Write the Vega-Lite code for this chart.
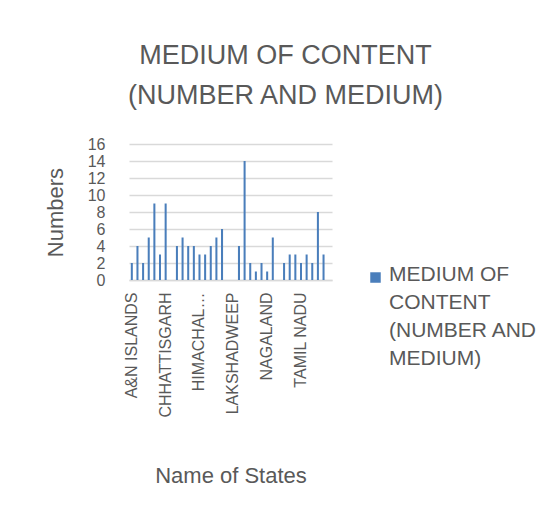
{
  "$schema": "https://vega.github.io/schema/vega-lite/v6.json",
  "width": 203,
  "height": 136,
  "padding": {"left": 44, "top": 42, "right": 5, "bottom": 5},
  "background": "white",
  "title": {
    "text": ["MEDIUM OF CONTENT", "(NUMBER AND MEDIUM)"],
    "fontSize": 27,
    "font": "Liberation Sans",
    "fontWeight": "normal",
    "color": "#595959",
    "lineHeight": 40,
    "anchor": "middle",
    "frame": "group",
    "dx": 55,
    "offset": 26
  },
  "data": {
    "values": [
      {"state": "A&N ISLANDS", "value": 2, "series": "MEDIUM OF CONTENT (NUMBER AND MEDIUM)"},
      {"state": "ANDHRA PRADESH", "value": 4, "series": "MEDIUM OF CONTENT (NUMBER AND MEDIUM)"},
      {"state": "ARUNACHAL PRADESH", "value": 2, "series": "MEDIUM OF CONTENT (NUMBER AND MEDIUM)"},
      {"state": "ASSAM", "value": 5, "series": "MEDIUM OF CONTENT (NUMBER AND MEDIUM)"},
      {"state": "BIHAR", "value": 9, "series": "MEDIUM OF CONTENT (NUMBER AND MEDIUM)"},
      {"state": "CHANDIGARH", "value": 3, "series": "MEDIUM OF CONTENT (NUMBER AND MEDIUM)"},
      {"state": "CHHATTISGARH", "value": 9, "series": "MEDIUM OF CONTENT (NUMBER AND MEDIUM)"},
      {"state": "DNH & DD", "value": 0, "series": "MEDIUM OF CONTENT (NUMBER AND MEDIUM)"},
      {"state": "DELHI", "value": 4, "series": "MEDIUM OF CONTENT (NUMBER AND MEDIUM)"},
      {"state": "GOA", "value": 5, "series": "MEDIUM OF CONTENT (NUMBER AND MEDIUM)"},
      {"state": "GUJARAT", "value": 4, "series": "MEDIUM OF CONTENT (NUMBER AND MEDIUM)"},
      {"state": "HARYANA", "value": 4, "series": "MEDIUM OF CONTENT (NUMBER AND MEDIUM)"},
      {"state": "HIMACHAL PRADESH", "value": 3, "series": "MEDIUM OF CONTENT (NUMBER AND MEDIUM)"},
      {"state": "JAMMU & KASHMIR", "value": 3, "series": "MEDIUM OF CONTENT (NUMBER AND MEDIUM)"},
      {"state": "JHARKHAND", "value": 4, "series": "MEDIUM OF CONTENT (NUMBER AND MEDIUM)"},
      {"state": "KARNATAKA", "value": 5, "series": "MEDIUM OF CONTENT (NUMBER AND MEDIUM)"},
      {"state": "KERALA", "value": 6, "series": "MEDIUM OF CONTENT (NUMBER AND MEDIUM)"},
      {"state": "LADAKH", "value": 0, "series": "MEDIUM OF CONTENT (NUMBER AND MEDIUM)"},
      {"state": "LAKSHADWEEP", "value": 0, "series": "MEDIUM OF CONTENT (NUMBER AND MEDIUM)"},
      {"state": "MADHYA PRADESH", "value": 4, "series": "MEDIUM OF CONTENT (NUMBER AND MEDIUM)"},
      {"state": "MAHARASHTRA", "value": 14, "series": "MEDIUM OF CONTENT (NUMBER AND MEDIUM)"},
      {"state": "MANIPUR", "value": 2, "series": "MEDIUM OF CONTENT (NUMBER AND MEDIUM)"},
      {"state": "MEGHALAYA", "value": 1, "series": "MEDIUM OF CONTENT (NUMBER AND MEDIUM)"},
      {"state": "MIZORAM", "value": 2, "series": "MEDIUM OF CONTENT (NUMBER AND MEDIUM)"},
      {"state": "NAGALAND", "value": 1, "series": "MEDIUM OF CONTENT (NUMBER AND MEDIUM)"},
      {"state": "ODISHA", "value": 5, "series": "MEDIUM OF CONTENT (NUMBER AND MEDIUM)"},
      {"state": "PUDUCHERRY", "value": 0, "series": "MEDIUM OF CONTENT (NUMBER AND MEDIUM)"},
      {"state": "PUNJAB", "value": 2, "series": "MEDIUM OF CONTENT (NUMBER AND MEDIUM)"},
      {"state": "RAJASTHAN", "value": 3, "series": "MEDIUM OF CONTENT (NUMBER AND MEDIUM)"},
      {"state": "SIKKIM", "value": 3, "series": "MEDIUM OF CONTENT (NUMBER AND MEDIUM)"},
      {"state": "TAMIL NADU", "value": 2, "series": "MEDIUM OF CONTENT (NUMBER AND MEDIUM)"},
      {"state": "TELANGANA", "value": 3, "series": "MEDIUM OF CONTENT (NUMBER AND MEDIUM)"},
      {"state": "TRIPURA", "value": 2, "series": "MEDIUM OF CONTENT (NUMBER AND MEDIUM)"},
      {"state": "UTTAR PRADESH", "value": 8, "series": "MEDIUM OF CONTENT (NUMBER AND MEDIUM)"},
      {"state": "UTTARAKHAND", "value": 3, "series": "MEDIUM OF CONTENT (NUMBER AND MEDIUM)"},
      {"state": "WEST BENGAL", "value": 0, "series": "MEDIUM OF CONTENT (NUMBER AND MEDIUM)"}
    ]
  },
  "mark": {"type": "bar"},
  "encoding": {
    "x": {
      "field": "state",
      "type": "nominal",
      "sort": null,
      "scale": {"paddingInner": 0.64, "paddingOuter": 0.32},
      "axis": {
        "title": "Name of States",
        "titleFontSize": 22,
        "titleFont": "Liberation Sans",
        "titleFontWeight": "normal",
        "titleColor": "#595959",
        "titlePadding": 48,
        "values": ["A&N ISLANDS", "CHHATTISGARH", "HIMACHAL PRADESH", "LAKSHADWEEP", "NAGALAND", "TAMIL NADU"],
        "labelExpr": "datum.label == 'HIMACHAL PRADESH' ? 'HIMACHAL…' : datum.label",
        "labelAngle": -90,
        "labelFontSize": 16,
        "labelFont": "Liberation Sans",
        "labelColor": "#595959",
        "labelPadding": 12,
        "labelLimit": 200,
        "ticks": false,
        "domainColor": "#d9d9d9",
        "domainWidth": 1.5
      }
    },
    "y": {
      "field": "value",
      "type": "quantitative",
      "scale": {"domain": [0, 16], "nice": false},
      "axis": {
        "title": "Numbers",
        "titleFontSize": 22,
        "titleFont": "Liberation Sans",
        "titleFontWeight": "normal",
        "titleColor": "#595959",
        "titlePadding": 20,
        "values": [0, 2, 4, 6, 8, 10, 12, 14, 16],
        "labelFontSize": 16,
        "labelFont": "Liberation Sans",
        "labelColor": "#595959",
        "labelPadding": 24,
        "labelOverlap": false,
        "ticks": false,
        "domain": false,
        "gridColor": "#d9d9d9",
        "gridWidth": 1.5
      }
    },
    "color": {
      "field": "series",
      "type": "nominal",
      "scale": {"range": ["#4a7ebb"]},
      "legend": {
        "title": null,
        "orient": "none",
        "legendX": 236,
        "legendY": 126,
        "padding": 0,
        "symbolType": "M-1,-1.57H1V0.43H-1Z",
        "symbolSize": 110,
        "symbolStrokeWidth": 0,
        "labelFontSize": 21,
        "labelFont": "Liberation Sans",
        "labelColor": "#595959",
        "labelOffset": 3,
        "labelLimit": 300,
        "labelBaseline": "alphabetic",
        "labelExpr": "['MEDIUM OF', 'CONTENT', '(NUMBER AND', 'MEDIUM)']"
      }
    }
  },
  "config": {
    "view": {"stroke": null},
    "style": {"guide-label": {"lineHeight": 28}}
  }
}
